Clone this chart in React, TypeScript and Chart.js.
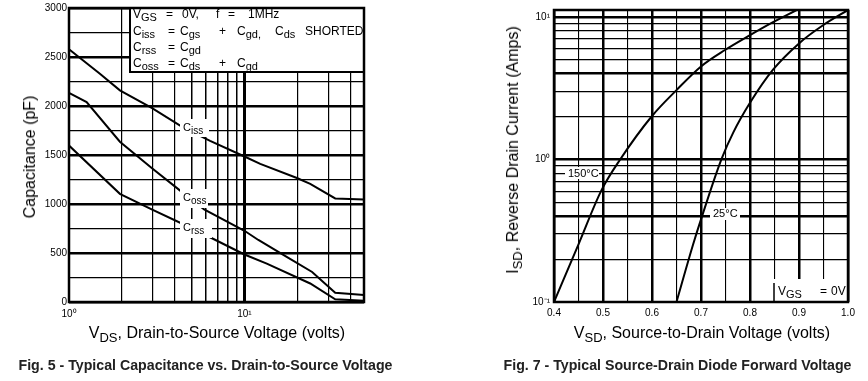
import React, { useEffect, useRef } from 'react';
import { Chart, registerables } from 'chart.js';
Chart.register(...registerables);

const FONT = "'Liberation Sans', Arial, Helvetica, sans-serif";

// ---- Fig. 5 : capacitance vs VDS ----
const vdsCiss = [1, 1.5, 1.95, 2.96, 4.39, 6.37, 10, 12.3, 19.9, 23.7, 32.9, 48];
const ciss = [2580, 2330, 2160, 1980, 1790, 1645, 1485, 1410, 1265, 1205, 1057, 1047];
const vdsCoss = [1, 1.26, 1.95, 2.96, 4.39, 5.89, 10, 12.0, 17.5, 24.3, 32.9, 48];
const coss = [2134, 2040, 1636, 1367, 1124, 946, 727, 633, 458, 306, 94, 71];
const vdsCrss = [1, 1.95, 2.96, 4.39, 6.66, 10, 13.4, 23.7, 32.9, 48];
const crss = [1596, 1104, 946, 801, 643, 485, 391, 189, 27, 13];
const vdsTicks = [1, 2, 3, 4, 5, 6, 7, 8, 9, 10, 20, 30, 40];
const capTicks = [0, 250, 500, 750, 1000, 1250, 1500, 1750, 2000, 2250, 2500, 2750, 3000];

// ---- Fig. 7 : source-drain diode ----
const vsd150 = [0.4, 0.45, 0.497, 0.535, 0.6, 0.65, 0.7, 0.749, 0.8, 0.847, 0.895];
const isd150 = [0.1, 0.254, 0.61, 1.0, 2.02, 3.07, 4.5, 5.87, 7.46, 9.2, 11.2];
const vsd25 = [0.65, 0.684, 0.701, 0.742, 0.766, 0.8, 0.847, 0.9, 0.949, 1.0];
const isd25 = [0.1, 0.254, 0.389, 1.01, 1.55, 2.5, 4.27, 6.53, 8.75, 11.2];
const vsdTicks = [0.4, 0.45, 0.5, 0.55, 0.6, 0.65, 0.7, 0.75, 0.8, 0.85, 0.9, 0.95, 1.0];
const isdTicks = [0.1, 0.2, 0.3, 0.4, 0.5, 0.6, 0.7, 0.8, 0.9, 1, 2, 3, 4, 5, 6, 7, 8, 9, 10];

const pts = (xs: number[], ys: number[]) => xs.map((x, i) => ({ x, y: ys[i] }));

function txt(ctx: CanvasRenderingContext2D, x: number, y: number, s: string, size: number) {
  ctx.font = `${size}px ${FONT}`;
  ctx.fillText(s, x, y);
}
function subTxt(ctx: CanvasRenderingContext2D, x: number, y: number, main: string, sub: string, size: number, subSize: number, dy: number) {
  ctx.font = `${size}px ${FONT}`;
  ctx.fillText(main, x, y);
  const w = ctx.measureText(main).width;
  ctx.font = `${subSize}px ${FONT}`;
  ctx.fillText(sub, x + w, y + dy);
}
function whiteBox(ctx: CanvasRenderingContext2D, x: number, y: number, w: number, h: number) {
  ctx.fillStyle = '#fff';
  ctx.fillRect(x, y, w, h);
  ctx.fillStyle = '#000';
}

const fig5Decor = {
  id: 'fig5Decor',
  afterDatasetsDraw(chart: any) {
    const ctx: CanvasRenderingContext2D = chart.ctx;
    const a = chart.chartArea;
    ctx.save();
    ctx.textBaseline = 'alphabetic';
    ctx.textAlign = 'left';
    // curve labels
    whiteBox(ctx, 180, 119, 29, 18);
    subTxt(ctx, 183, 131, 'C', 'iss', 11, 10, 3);
    whiteBox(ctx, 180, 189, 28, 19);
    subTxt(ctx, 183, 201, 'C', 'oss', 11, 10, 3);
    whiteBox(ctx, 180, 219, 32, 19);
    subTxt(ctx, 183, 231, 'C', 'rss', 11, 10, 3);
    // legend box
    ctx.fillStyle = '#fff';
    ctx.fillRect(130, a.top, a.right - 130, 72 - a.top);
    ctx.strokeStyle = '#000';
    ctx.lineWidth = 2;
    ctx.strokeRect(130, a.top, a.right - 130, 72 - a.top);
    ctx.fillStyle = '#000';
    subTxt(ctx, 133, 18, 'V', 'GS', 12, 11, 3);
    txt(ctx, 166, 18, '=', 12);
    txt(ctx, 182, 18, '0V,', 12);
    txt(ctx, 216, 18, 'f', 12);
    txt(ctx, 228, 18, '=', 12);
    txt(ctx, 248, 18, '1MHz', 12);

    subTxt(ctx, 133, 34.5, 'C', 'iss', 12, 11, 3);
    txt(ctx, 168, 34.5, '=', 12);
    subTxt(ctx, 180, 34.5, 'C', 'gs', 12, 11, 3);
    txt(ctx, 219, 34.5, '+', 12);
    subTxt(ctx, 237, 34.5, 'C', 'gd,', 12, 11, 3);
    subTxt(ctx, 275, 34.5, 'C', 'ds', 12, 11, 3);
    txt(ctx, 305, 34.5, 'SHORTED', 12);

    subTxt(ctx, 133, 51, 'C', 'rss', 12, 11, 3);
    txt(ctx, 168, 51, '=', 12);
    subTxt(ctx, 180, 51, 'C', 'gd', 12, 11, 3);

    subTxt(ctx, 133, 67, 'C', 'oss', 12, 11, 3);
    txt(ctx, 168, 67, '=', 12);
    subTxt(ctx, 180, 67, 'C', 'ds', 12, 11, 3);
    txt(ctx, 219, 67, '+', 12);
    subTxt(ctx, 237, 67, 'C', 'gd', 12, 11, 3);
    // frame
    ctx.lineWidth = 2.5;
    ctx.strokeRect(a.left, a.top, a.right - a.left, a.bottom - a.top);
    ctx.restore();
  },
};

const fig7Decor = {
  id: 'fig7Decor',
  afterDatasetsDraw(chart: any) {
    const ctx: CanvasRenderingContext2D = chart.ctx;
    const a = chart.chartArea;
    ctx.save();
    ctx.textBaseline = 'alphabetic';
    ctx.textAlign = 'left';
    whiteBox(ctx, 131, 167, 34, 12);
    txt(ctx, 134, 177, '150°C', 11);
    whiteBox(ctx, 276, 208, 30, 12);
    txt(ctx, 279, 217, '25°C', 11);
    whiteBox(ctx, 340, 279, a.right - 340, a.bottom - 279);
    ctx.strokeStyle = '#000';
    ctx.lineWidth = 1.5;
    ctx.beginPath();
    ctx.moveTo(340, 283);
    ctx.lineTo(340, a.bottom);
    ctx.stroke();
    subTxt(ctx, 344, 295, 'V', 'GS', 12, 11, 3);
    txt(ctx, 386, 295, '=', 12);
    txt(ctx, 397, 295, '0V', 12);
    ctx.lineWidth = 2.5;
    ctx.strokeRect(a.left, a.top, a.right - a.left, a.bottom - a.top);
    ctx.restore();
  },
};

const tickFont = { family: FONT, size: 10 };
const lineDs = (data: any[]) => ({
  data,
  showLine: true,
  borderColor: '#000',
  borderWidth: 2,
  pointRadius: 0,
  fill: false,
});

function cfg5(): any {
  return {
    type: 'scatter',
    data: {
      datasets: [
        { label: 'Ciss', ...lineDs(pts(vdsCiss, ciss)), tension: 0 },
        { label: 'Coss', ...lineDs(pts(vdsCoss, coss)), tension: 0 },
        { label: 'Crss', ...lineDs(pts(vdsCrss, crss)), tension: 0 },
      ],
    },
    options: {
      responsive: false,
      animation: false,
      devicePixelRatio: 1,
      events: [],
      layout: { padding: { left: 0, top: 5, right: 70, bottom: 0 } },
      plugins: { legend: { display: false }, tooltip: { enabled: false } },
      scales: {
        x: {
          type: 'logarithmic',
          min: 1,
          max: 48,
          afterBuildTicks: (s: any) => { s.ticks = vdsTicks.map((v) => ({ value: v })); },
          afterFit: (s: any) => { s.height = 79; },
          border: { display: false },
          grid: {
            color: '#000',
            drawTicks: false,
            lineWidth: (c: any) => {
              const v = c.tick ? c.tick.value : 0;
              if (v === 10) return 3;
              if (v >= 5 && v <= 9) return 1.5;
              return 1.2;
            },
          },
          ticks: {
            autoSkip: false,
            maxRotation: 0,
            padding: 6,
            color: '#000',
            font: tickFont,
            callback: (v: any) => (v === 1 ? '10⁰' : v === 10 ? '10¹' : ''),
          },
        },
        y: {
          type: 'linear',
          min: 0,
          max: 3000,
          afterBuildTicks: (s: any) => { s.ticks = capTicks.map((v) => ({ value: v })); },
          afterFit: (s: any) => { s.width = 69; },
          border: { display: false },
          grid: {
            color: '#000',
            drawTicks: false,
            lineWidth: (c: any) => (c.tick && c.tick.value % 500 === 0 ? 2.5 : 1.2),
          },
          ticks: {
            autoSkip: false,
            padding: 2,
            color: '#000',
            font: tickFont,
            callback: (v: any) => (v % 500 === 0 ? String(v) : ''),
          },
        },
      },
    },
    plugins: [fig5Decor],
  };
}

const thickIsd = [0.4, 1, 4, 10];

function cfg7(): any {
  return {
    type: 'scatter',
    data: {
      datasets: [
        { label: '150°C', ...lineDs(pts(vsd150, isd150)), cubicInterpolationMode: 'monotone' },
        { label: '25°C', ...lineDs(pts(vsd25, isd25)), cubicInterpolationMode: 'monotone' },
      ],
    },
    options: {
      responsive: false,
      animation: false,
      devicePixelRatio: 1,
      events: [],
      layout: { padding: { left: 0, top: 6, right: 20, bottom: 0 } },
      plugins: { legend: { display: false }, tooltip: { enabled: false } },
      scales: {
        x: {
          type: 'linear',
          min: 0.4,
          max: 1.0,
          afterBuildTicks: (s: any) => { s.ticks = vsdTicks.map((v) => ({ value: v })); },
          afterFit: (s: any) => { s.height = 79; },
          border: { display: false },
          grid: {
            color: '#000',
            drawTicks: false,
            lineWidth: (c: any) => (c.index % 2 === 0 ? 2.5 : 1.1),
          },
          ticks: {
            autoSkip: false,
            maxRotation: 0,
            padding: 5,
            color: '#000',
            font: tickFont,
            callback: (v: any, i: number) => (i % 2 === 0 ? Number(v).toFixed(1) : ''),
          },
        },
        y: {
          type: 'logarithmic',
          min: 0.1,
          max: 11.2,
          afterBuildTicks: (s: any) => { s.ticks = isdTicks.map((v) => ({ value: v })); },
          afterFit: (s: any) => { s.width = 120; },
          border: { display: false },
          grid: {
            color: '#000',
            drawTicks: false,
            lineWidth: (c: any) => (c.tick && thickIsd.includes(c.tick.value) ? 2.5 : 1.2),
          },
          ticks: {
            autoSkip: false,
            padding: 4,
            color: '#000',
            font: tickFont,
            callback: (v: any) => (v === 0.1 ? '10⁻¹' : v === 1 ? '10⁰' : v === 10 ? '10¹' : ''),
          },
        },
      },
    },
    plugins: [fig7Decor],
  };
}

const center = (x: number, y: number, extra: any = {}): any => ({
  position: 'absolute',
  left: x,
  top: y,
  transform: 'translate(-50%, -50%)',
  whiteSpace: 'nowrap',
  lineHeight: 1,
  ...extra,
});
const subStyle: any = { fontSize: 13, position: 'relative', top: 4 };
const titleStyle = { fontSize: 16, color: '#000', fontFamily: FONT };
const capStyle = { fontSize: 14.2, fontWeight: 'bold', color: '#222', fontFamily: FONT };

export default function App() {
  const c1 = useRef<HTMLCanvasElement>(null);
  const c2 = useRef<HTMLCanvasElement>(null);
  useEffect(() => {
    const ch1 = new Chart(c1.current as HTMLCanvasElement, cfg5());
    const ch2 = new Chart(c2.current as HTMLCanvasElement, cfg7());
    return () => {
      ch1.destroy();
      ch2.destroy();
    };
  }, []);
  return (
    <div style={{ position: 'absolute', left: 0, top: 0, width: 868, height: 381, background: '#fff', overflow: 'hidden', fontFamily: FONT }}>
      <canvas ref={c1} width={434} height={381} style={{ position: 'absolute', left: 0, top: 0, width: 434, height: 381 }} />
      <canvas ref={c2} width={434} height={381} style={{ position: 'absolute', left: 434, top: 0, width: 434, height: 381 }} />
      <div style={center(30, 157, { ...titleStyle, transform: 'translate(-50%, -50%) rotate(-90deg)' })}>Capacitance (pF)</div>
      <div style={center(217, 333, titleStyle)}>
        V<span style={subStyle}>DS</span>, Drain-to-Source Voltage (volts)
      </div>
      <div style={center(513, 150, { ...titleStyle, transform: 'translate(-50%, -50%) rotate(-90deg)' })}>
        I<span style={subStyle}>SD</span>, Reverse Drain Current (Amps)
      </div>
      <div style={center(702, 333, titleStyle)}>
        V<span style={subStyle}>SD</span>, Source-to-Drain Voltage (volts)
      </div>
      <div style={center(205.5, 365, capStyle)}>Fig. 5 - Typical Capacitance vs. Drain-to-Source Voltage</div>
      <div style={center(677.5, 365, capStyle)}>Fig. 7 - Typical Source-Drain Diode Forward Voltage</div>
    </div>
  );
}
